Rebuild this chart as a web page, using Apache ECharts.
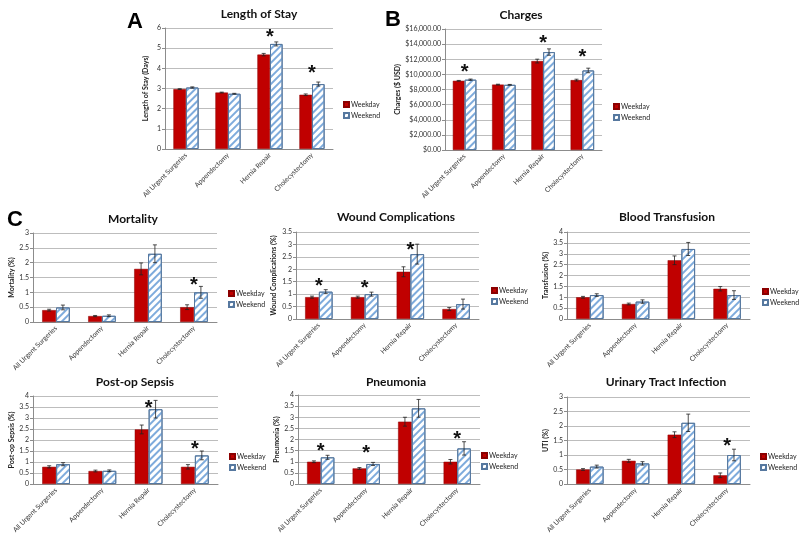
<!DOCTYPE html>
<html><head><meta charset="utf-8">
<script src="https://cdn.jsdelivr.net/npm/echarts@6/dist/echarts.min.js"></script>
<style>html,body{margin:0;padding:0;background:#fff}#c{width:800px;height:540px}</style>
</head><body><div id="c"></div>
<script>
const categories = ['All Urgent Surgeries','Appendectomy','Hernia Repair','Cholecystectomy'];
const seriesNames = ['Weekday','Weekend'];

// A: Length of stay (days)
const losWeekday = [2.97, 2.80, 4.68, 2.69];
const losWeekend = [3.05, 2.74, 5.21, 3.22];
const losWeekdayErr = [0.02, 0.02, 0.06, 0.04];
const losWeekendErr = [0.03, 0.02, 0.10, 0.10];
const losStar = [null, null, 5.75, 3.96];
const losTicks = [0, 1, 2, 3, 4, 5, 6];

// B: Charges ($ USD)
const chgWeekday = [9150, 8650, 11760, 9240];
const chgWeekend = [9300, 8620, 12950, 10520];
const chgWeekdayErr = [50, 50, 250, 120];
const chgWeekendErr = [80, 50, 420, 300];
const chgStar = [10740, null, 14586, 12818];
const chgTicks = [0, 2000, 4000, 6000, 8000, 10000, 12000, 14000, 16000];

// C: Mortality (%)
const morWeekday = [0.40, 0.20, 1.79, 0.50];
const morWeekend = [0.49, 0.21, 2.30, 1.00];
const morWeekdayErr = [0.03, 0.02, 0.20, 0.08];
const morWeekendErr = [0.08, 0.03, 0.30, 0.20];
const morStar = [null, null, null, 1.38];

// Wound complications (%)
const wndWeekday = [0.88, 0.88, 1.90, 0.40];
const wndWeekend = [1.10, 1.00, 2.61, 0.60];
const wndWeekdayErr = [0.04, 0.04, 0.20, 0.06];
const wndWeekendErr = [0.08, 0.08, 0.40, 0.20];
const wndStar = [1.48, 1.37, 2.90, null];

// Blood transfusion (%)
const bldWeekday = [1.00, 0.69, 2.70, 1.39];
const bldWeekend = [1.10, 0.80, 3.22, 1.10];
const bldWeekdayErr = [0.04, 0.04, 0.20, 0.10];
const bldWeekendErr = [0.06, 0.08, 0.30, 0.20];
const bldStar = [null, null, null, null];

// Post-op sepsis (%)
const sepWeekday = [0.78, 0.59, 2.48, 0.78];
const sepWeekend = [0.90, 0.60, 3.40, 1.30];
const sepWeekdayErr = [0.05, 0.04, 0.20, 0.10];
const sepWeekendErr = [0.07, 0.04, 0.40, 0.20];
const sepStar = [null, null, 3.62, 1.74];

// Pneumonia (%)
const pnaWeekday = [1.00, 0.70, 2.80, 1.00];
const pnaWeekend = [1.20, 0.90, 3.40, 1.60];
const pnaWeekdayErr = [0.04, 0.04, 0.20, 0.10];
const pnaWeekendErr = [0.09, 0.07, 0.40, 0.30];
const pnaStar = [1.65, 1.53, null, 2.20];

// Urinary tract infection (%)
const utiWeekday = [0.50, 0.80, 1.70, 0.30];
const utiWeekend = [0.60, 0.71, 2.11, 1.00];
const utiWeekdayErr = [0.03, 0.05, 0.10, 0.08];
const utiWeekendErr = [0.05, 0.06, 0.30, 0.20];
const utiStar = [null, null, null, 1.43];

const panels = [
  {title:'Length of Stay', yName:'Length of Stay (Days)', max:6, interval:1, wd:losWeekday, we:losWeekend, wdE:losWeekdayErr, weE:losWeekendErr, star:losStar,
   grid:{left:165, top:28, width:168, height:121}, tPos:[259,14], lPos:[343,101], gap:16, fmt:null},
  {title:'Charges', yName:'Charges ($ USD)', max:16000, interval:2000, wd:chgWeekday, we:chgWeekend, wdE:chgWeekdayErr, weE:chgWeekendErr, star:chgStar,
   grid:{left:445, top:29, width:157, height:121}, tPos:[521,15], lPos:[613,103], gap:40, fmt:'usd'},
  {title:'Mortality', yName:'Mortality (%)', max:3, interval:0.5, wd:morWeekday, we:morWeekend, wdE:morWeekdayErr, weE:morWeekendErr, star:morStar,
   grid:{left:33, top:233, width:184, height:89}, tPos:[133,219], lPos:[228,290], gap:17},
  {title:'Wound Complications', yName:'Wound Complications (%)', max:3.5, interval:0.5, wd:wndWeekday, we:wndWeekend, wdE:wndWeekdayErr, weE:wndWeekendErr, star:wndStar,
   grid:{left:296, top:232, width:183, height:87}, tPos:[396,217], lPos:[491,287], gap:19},
  {title:'Blood Transfusion', yName:'Transfusion (%)', max:4, interval:0.5, wd:bldWeekday, we:bldWeekend, wdE:bldWeekdayErr, weE:bldWeekendErr, star:bldStar,
   grid:{left:567, top:232, width:183, height:87}, tPos:[667,217], lPos:[762,288], gap:18},
  {title:'Post-op Sepsis', yName:'Post-op Sepsis (%)', max:4, interval:0.5, wd:sepWeekday, we:sepWeekend, wdE:sepWeekdayErr, weE:sepWeekendErr, star:sepStar,
   grid:{left:33, top:396, width:185, height:88}, tPos:[135,382], lPos:[229,453], gap:16},
  {title:'Pneumonia', yName:'Pneumonia (%)', max:4, interval:0.5, wd:pnaWeekday, we:pnaWeekend, wdE:pnaWeekdayErr, weE:pnaWeekendErr, star:pnaStar,
   grid:{left:298, top:395, width:182, height:89}, tPos:[396,382], lPos:[481,452], gap:18},
  {title:'Urinary Tract Infection', yName:'UTI (%)', max:3, interval:0.5, wd:utiWeekday, we:utiWeekend, wdE:utiWeekdayErr, weE:utiWeekendErr, star:utiStar,
   grid:{left:567, top:397, width:183, height:87}, tPos:[666,382], lPos:[760,453], gap:18}
];

const FONT = 'Lato, "Open Sans", sans-serif';
const RED = '#c00000';
const weekendStyle = {
  color:'#ffffff', borderColor:'#56789f', borderWidth:1,
  decal:{symbol:'rect', symbolSize:1, color:'#7eabdc', dashArrayX:[1,0], dashArrayY:[2,3], rotation:-Math.PI/4}
};
const weekdayStyle = {color:RED, borderColor:'#8b0000', borderWidth:0.5};

function errRender(params, api){
  const i = api.value(0), v = api.value(1), e = api.value(2), side = api.value(3);
  const band = api.size([1,0])[0];
  const cx = api.coord([i, v])[0] + side*band*0.15;
  const yT = api.coord([i, v+e])[1], yB = api.coord([i, v-e])[1];
  const cap = 2, st = {stroke:'#222', lineWidth:0.8};
  return {type:'group', children:[
    {type:'line', shape:{x1:cx,y1:yT,x2:cx,y2:yB}, style:st},
    {type:'line', shape:{x1:cx-cap,y1:yT,x2:cx+cap,y2:yT}, style:st},
    {type:'line', shape:{x1:cx-cap,y1:yB,x2:cx+cap,y2:yB}, style:st}
  ]};
}
function starRender(params, api){
  const p = api.coord([api.value(0), api.value(1)]);
  return {type:'text', x:p[0], y:p[1]+4, style:{text:'*', fill:'#111', font:'bold 20px "Liberation Sans", Arial, sans-serif', align:'center', verticalAlign:'middle'}};
}

const grid=[], xAxis=[], yAxis=[], series=[], legend=[], graphic=[];
panels.forEach((p, k) => {
  grid.push(Object.assign({containLabel:false}, p.grid));
  xAxis.push({type:'category', gridIndex:k, data:categories,
    axisLine:{lineStyle:{color:'#8c8c8c'}}, axisTick:{lineStyle:{color:'#8c8c8c'}, length:3},
    axisLabel:{rotate:45, interval:0, fontSize:6.8, color:'#333', fontFamily:FONT, margin:5}});
  yAxis.push({type:'value', gridIndex:k, min:0, max:p.max, interval:p.interval,
    name:p.yName, nameLocation:'middle', nameRotate:90, nameGap:p.gap,
    nameTextStyle:{fontSize:7, fontWeight:'bold', color:'#222', fontFamily:FONT},
    axisLine:{show:true, lineStyle:{color:'#8c8c8c'}}, axisTick:{show:true, length:3, lineStyle:{color:'#8c8c8c'}},
    splitLine:{lineStyle:{color:'#bdbdbd', width:1}},
    axisLabel:{fontSize:7, color:'#333', fontFamily:FONT, margin:4,
      formatter: p.fmt==='usd' ? (v => '$' + v.toLocaleString('en-US',{minimumFractionDigits:2, maximumFractionDigits:2})) : (v => String(v))}});
  series.push({type:'bar', name:seriesNames[0], xAxisIndex:k, yAxisIndex:k, data:p.wd,
    barGap:'0%', barCategoryGap:'40%', itemStyle:weekdayStyle, emphasis:{disabled:true}});
  series.push({type:'bar', name:seriesNames[1], xAxisIndex:k, yAxisIndex:k, data:p.we,
    barGap:'0%', barCategoryGap:'40%', itemStyle:weekendStyle, emphasis:{disabled:true}});
  const ed = [];
  p.wd.forEach((v,i)=>ed.push([i, v, p.wdE[i], -1]));
  p.we.forEach((v,i)=>ed.push([i, v, p.weE[i], 1]));
  series.push({type:'custom', xAxisIndex:k, yAxisIndex:k, renderItem:errRender, data:ed, encode:{x:0,y:1}, z:5, silent:true});
  const sd = [];
  p.star.forEach((v,i)=>{ if (v!==null) sd.push([i, v]); });
  if (sd.length) series.push({type:'custom', xAxisIndex:k, yAxisIndex:k, renderItem:starRender, data:sd, encode:{x:0,y:1}, z:6, silent:true});
  legend.push({left:p.lPos[0], top:p.lPos[1], orient:'vertical', itemWidth:5, itemHeight:5, itemGap:4, padding:0, icon:'rect',
    data:seriesNames, textStyle:{fontSize:7, color:'#222', fontFamily:FONT, padding:[0,0,0,-3]}, selectedMode:false});
  graphic.push({type:'text', x:p.tPos[0], y:p.tPos[1], style:{text:p.title, font:'bold 12px '+FONT, fill:'#111', align:'center', verticalAlign:'middle'}});
});
graphic.push({type:'text', x:135, y:22, style:{text:'A', font:'bold 22px "Liberation Sans", Arial, sans-serif', fill:'#000', align:'center', verticalAlign:'middle'}});
graphic.push({type:'text', x:393, y:20, style:{text:'B', font:'bold 22px "Liberation Sans", Arial, sans-serif', fill:'#000', align:'center', verticalAlign:'middle'}});
graphic.push({type:'text', x:15, y:220, style:{text:'C', font:'bold 22px "Liberation Sans", Arial, sans-serif', fill:'#000', align:'center', verticalAlign:'middle'}});

const chart = echarts.init(document.getElementById('c'), null, {renderer:'canvas'});
chart.setOption({animation:false, backgroundColor:'#fff', grid, xAxis, yAxis, series, legend, graphic});
</script></body></html>
